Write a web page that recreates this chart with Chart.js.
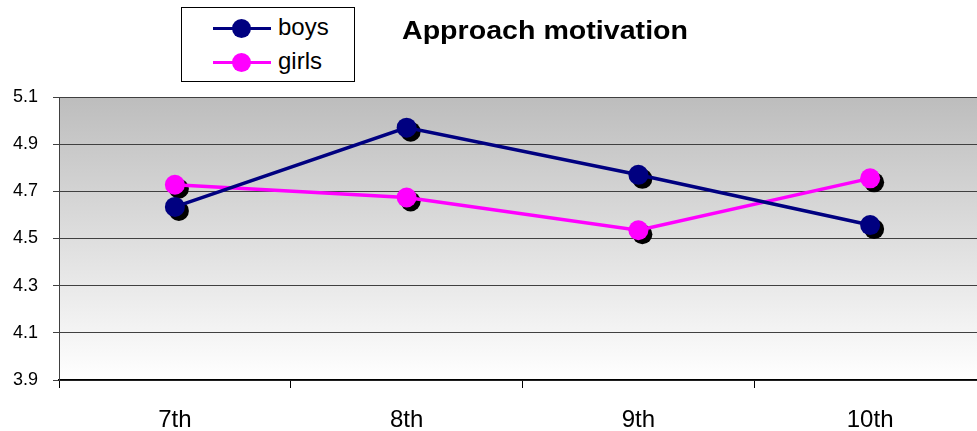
<!DOCTYPE html>
<html>
<head>
<meta charset="utf-8">
<script src="https://cdn.jsdelivr.net/npm/chart.js@4.4.0/dist/chart.umd.min.js"></script>
<style>
    body { margin: 0; overflow: hidden; background: #fff; font-family: "Liberation Sans", Arial, sans-serif; }
    #wrap { position: relative; width: 977px; height: 431px; overflow: hidden; }
    #chart { position: absolute; left: 0; top: 0; }
    #legend { position: absolute; left: 181px; top: 7px; width: 172px; height: 73px; border: 1px solid #000; background: #fff; }
    .item { position: absolute; left: 0; height: 34px; width: 172px; }
    .item .ln { position: absolute; left: 31px; width: 58px; height: 3px; top: 16px; }
    .item .dot { position: absolute; left: 50px; top: 8px; width: 19px; height: 19px; border-radius: 50%; }
    .item .txt { position: absolute; left: 96px; top: 1px; font-size: 24px; color: #000; line-height: 30px; }
    #title { position: absolute; left: 402px; top: 15px; width: 292px; height: 36px; overflow: hidden; }
    #title span { display: inline-block; font-weight: bold; font-size: 26px; white-space: nowrap; transform: scaleX(1.1); transform-origin: left center; }
</style>
</head>
<body>
<div id="wrap">
    <canvas id="chart" width="1000" height="431"></canvas>
    <div id="title"><span>Approach motivation</span></div>
    <div id="legend"></div>
</div>
<script>
// Chart data
const grades = ['7th', '8th', '9th', '10th'];
const boys = [4.634, 4.97, 4.77, 4.557];
const girls = [4.728, 4.674, 4.535, 4.755];
const yTicks = [3.9, 4.1, 4.3, 4.5, 4.7, 4.9, 5.1];

const series = [
    { label: 'boys', data: boys, color: '#000080' },
    { label: 'girls', data: girls, color: '#ff00ff' }
];

// Gray to white plot background
const backgroundPlugin = {
    id: 'plotBackground',
    beforeDraw(chart) {
        const { ctx, chartArea } = chart;
        const grad = ctx.createLinearGradient(0, chartArea.top, 0, chartArea.bottom);
        grad.addColorStop(0, '#bdbdbd');
        grad.addColorStop(1, '#ffffff');
        ctx.save();
        ctx.fillStyle = grad;
        ctx.fillRect(chartArea.left, chartArea.top, chartArea.right - chartArea.left, chartArea.bottom - chartArea.top);
        ctx.restore();
    }
};

// Black drop shadow under each marker
const shadowPlugin = {
    id: 'markerShadow',
    beforeDatasetsDraw(chart) {
        const ctx = chart.ctx;
        ctx.save();
        ctx.fillStyle = '#000';
        chart.data.datasets.forEach((ds, i) => {
            chart.getDatasetMeta(i).data.forEach(pt => {
                ctx.beginPath();
                ctx.arc(pt.x + 4, pt.y + 4, 10, 0, Math.PI * 2);
                ctx.fill();
            });
        });
        ctx.restore();
    }
};

new Chart(document.getElementById('chart'), {
    type: 'line',
    data: {
        labels: grades,
        datasets: series.map(s => ({
            label: s.label,
            data: s.data,
            borderColor: s.color,
            backgroundColor: s.color,
            borderWidth: 3.5,
            pointRadius: 10,
            pointBorderWidth: 0,
            pointBackgroundColor: s.color,
            tension: 0,
            fill: false
        }))
    },
    options: {
        responsive: false,
        animation: false,
        layout: { padding: { left: 0, right: 14, top: 97, bottom: 0 } },
        plugins: {
            legend: { display: false },
            title: { display: false },
            tooltip: { enabled: false }
        },
        scales: {
            x: {
                offset: true,
                grid: {
                    offset: true,
                    drawOnChartArea: false,
                    drawTicks: true,
                    tickLength: 8,
                    color: '#000'
                },
                border: { color: '#000', width: 1.5 },
                ticks: {
                    color: '#000',
                    padding: 18,
                    font: { family: 'Liberation Sans', size: 24 }
                },
                afterFit(scale) { scale.height = 51; }
            },
            y: {
                min: 3.9,
                max: 5.1,
                afterBuildTicks(scale) { scale.ticks = yTicks.map(v => ({ value: v })); },
                grid: {
                    color: '#404040',
                    lineWidth: 1,
                    tickLength: 6,
                    drawTicks: true
                },
                border: { color: '#404040', width: 1 },
                ticks: {
                    color: '#000',
                    padding: 15,
                    font: { family: 'Liberation Sans', size: 18 },
                    callback: v => v.toFixed(1)
                },
                afterFit(scale) { scale.width = 59; }
            }
        }
    },
    plugins: [backgroundPlugin, shadowPlugin]
});

// HTML legend built from the series
const legend = document.getElementById('legend');
series.forEach((s, i) => {
    const item = document.createElement('div');
    item.className = 'item';
    item.style.top = (3 + i * 34) + 'px';
    item.innerHTML = '<div class="ln" style="background:' + s.color + '"></div>' +
        '<div class="dot" style="background:' + s.color + '"></div>' +
        '<div class="txt">' + s.label + '</div>';
    legend.appendChild(item);
});
</script>
</body>
</html>
